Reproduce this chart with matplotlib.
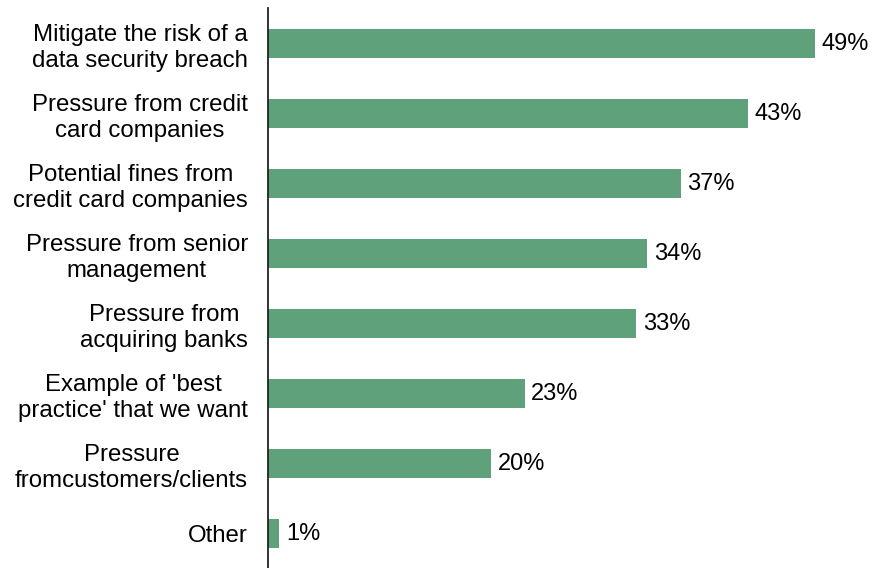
import matplotlib.pyplot as plt

plt.rcParams['font.family'] = ['Liberation Sans', 'DejaVu Sans']

reasons = ["Mitigate the risk of a\ndata security breach",
           "Pressure from credit\ncard companies",
           "Potential fines from\ncredit card companies",
           "Pressure from senior\nmanagement",
           "Pressure from\nacquiring banks",
           "Example of 'best\npractice' that we want",
           "Pressure\nfromcustomers/clients",
           "Other"]
pct = [49, 43, 37, 34, 33, 23, 20, 1]

fig = plt.figure(figsize=(8.76, 5.68), dpi=100)
ax = fig.add_axes([268 / 876, 0, 1 - 268 / 876, 560 / 568])

pos = list(range(len(reasons)))
ax.barh(pos, pct, height=0.42, color='#5fa17b')
for p, v in zip(pos, pct):
    ax.text(v + 0.6, p, f"{v}%", va='center', ha='left', fontsize=17)

ax.set_xlim(0, 54.5)
ax.set_ylim(7.49, -0.51)
ax.set_yticks(pos)
ax.set_yticklabels(reasons, fontsize=17.3, linespacing=1.2,
                   multialignment='center')
ax.tick_params(axis='y', length=0, pad=14.4)
ax.set_xticks([])
for s in ['top', 'right', 'bottom']:
    ax.spines[s].set_visible(False)
ax.spines['left'].set_color('#222222')
ax.spines['left'].set_linewidth(1.3)

fig.savefig('out.png', dpi=100)
